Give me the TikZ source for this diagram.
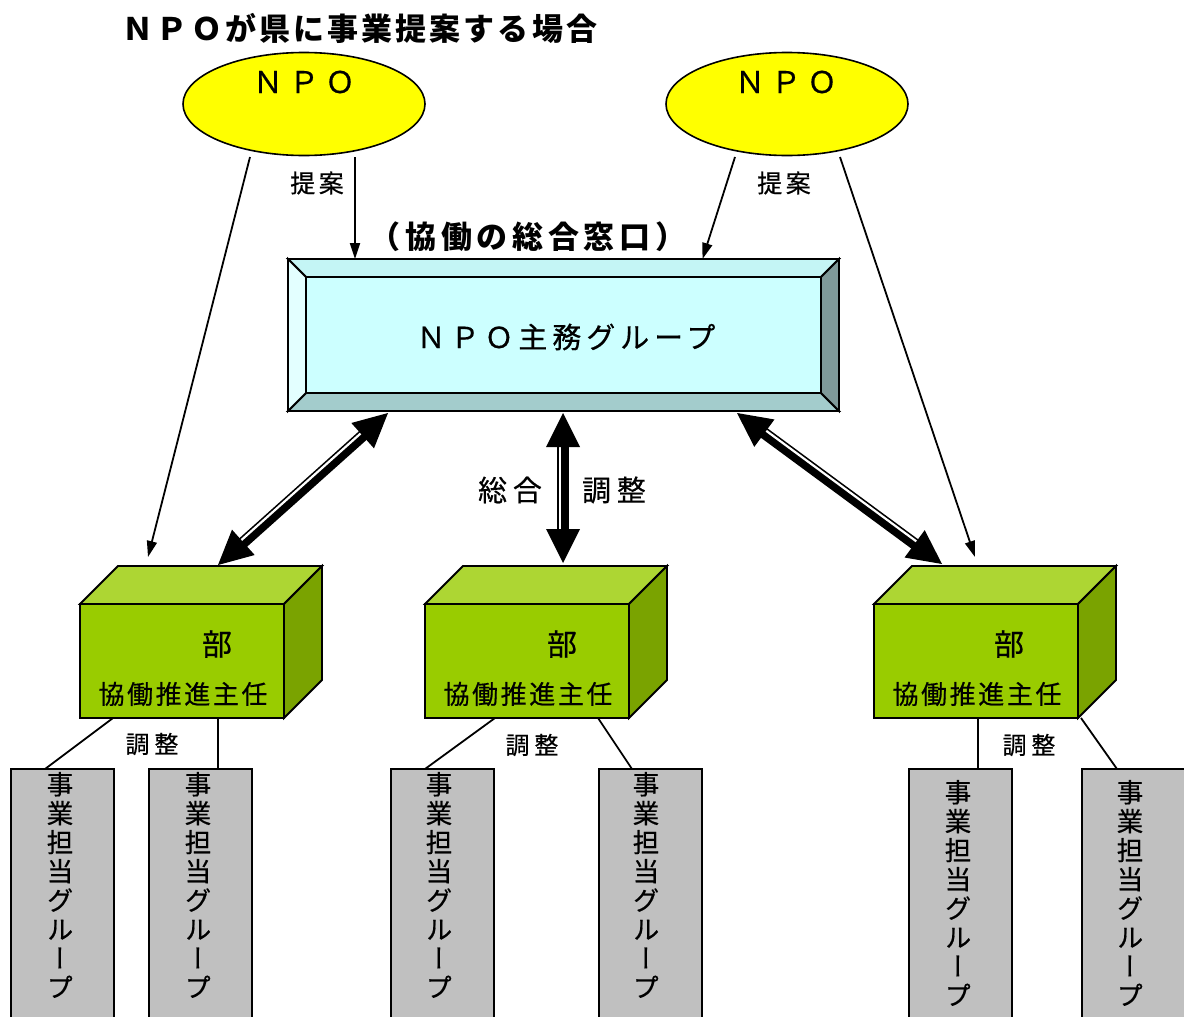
\documentclass[tikz,border=0pt]{standalone}
\usepackage{fontspec}
\setmainfont{Noto Sans CJK JP}[UprightFeatures={FakeBold=0.5}]
% vertical glyph forms (long vowel mark as a vertical bar)
\newfontfamily\jpvert[RawFeature=+vert,FakeBold=0.5]{Noto Sans CJK JP}
\usetikzlibrary{shapes.geometric,arrows.meta,calc}

\definecolor{npoyellow}{HTML}{FFFF00}
\definecolor{faceCyan}{HTML}{CCFFFF}
\definecolor{bevTop}{HTML}{C4F5F5}
\definecolor{bevLeft}{HTML}{E3FFFF}
\definecolor{bevRight}{HTML}{7F9999}
\definecolor{bevBottom}{HTML}{A3CCCC}
\definecolor{cubeFront}{HTML}{99CC00}
\definecolor{cubeTop}{HTML}{ADD633}
\definecolor{cubeSide}{HTML}{7AA300}
\definecolor{grpGray}{HTML}{C0C0C0}

% font size (pt) with extra letter spacing (percent of size)
\newcommand{\jsz}[2]{\fontsize{#1}{#1}\selectfont\addfontfeature{LetterSpace=#2}}

% heavy two-headed arrow with a thin white stripe along one side
% #1,#2 tips; #3,#4 stripe side angles seen from each end
\newcommand{\twinarrow}[4]{%
  \draw[line width=11.5pt] ($(#1)!30pt!(#2)$) -- ($(#2)!30pt!(#1)$);
  \draw[white,line width=2.2pt] ($(#1)!33pt!(#2)!3pt!#3:(#2)$) -- ($(#2)!33pt!(#1)!3pt!#4:(#1)$);
  \fill ($(#1)!34pt!(#2)!17pt!90:(#2)$) -- (#1) -- ($(#1)!34pt!(#2)!17pt!-90:(#2)$) -- cycle;
  \fill ($(#2)!34pt!(#1)!17pt!90:(#1)$) -- (#2) -- ($(#2)!34pt!(#1)!17pt!-90:(#1)$) -- cycle;
}

% department box drawn as a cube: #1 name, #2 front top-left corner
\newcommand{\deptcube}[2]{%
  \node[deptfront] (#1) at (#2) {};
  \filldraw[fill=cubeTop,line width=1.8pt] (#1.north west) -- ++(38,-38) -- ++(204,0) -- (#1.north east) -- cycle;
  \filldraw[fill=cubeSide,line width=1.8pt] (#1.north east) -- ++(38,-38) -- ++(0,114) -- (#1.south east) -- cycle;
}

\begin{document}
\begin{tikzpicture}[x=1pt,y=-1pt,
  every node/.style={inner sep=0pt,outer sep=0pt,text=black},
  npobubble/.style={ellipse,draw,line width=1.6pt,fill=npoyellow,minimum width=242pt,minimum height=103pt},
  feedline/.style={line width=1.8pt,-{Triangle[length=16pt,width=10pt]}},
  deptfront/.style={rectangle,draw,line width=1.8pt,fill=cubeFront,minimum width=204pt,minimum height=114pt,anchor=north west},
  grpbox/.style={rectangle,draw,line width=1.8pt,fill=grpGray,minimum width=103pt,minimum height=270pt,anchor=north west},
  vlabel/.style={anchor=north,align=center,font={\jpvert\fontsize{26.5}{29}\selectfont}},
  branch/.style={line width=1.8pt},
]
\useasboundingbox (0,0) rectangle (1184,1017);

% title
\node (title) at (360,28) {\bfseries\jsz{31}{10}ＮＰＯが県に事業提案する場合};

% proposing NPOs
\node[npobubble] (npo1) at (304,104) {};
\node[npobubble] (npo2) at (787,104) {};
\node (npo1t) at (304,82) {\jsz{30}{20}ＮＰＯ};
\node (npo2t) at (786,82) {\jsz{30}{20}ＮＰＯ};

% central contact point with bevelled frame
\node (window) at (528,237) {\bfseries\jsz{31}{15}（協働の総合窓口）};
\node[rectangle,draw,line width=1.8pt,fill=faceCyan,minimum width=551pt,minimum height=152pt] (main) at (563.5,335) {};
\filldraw[fill=bevTop,line width=1.8pt] (main.north west) -- (main.north east) -- ++(-18,18) -- ($(main.north west)+(18,18)$) -- cycle;
\filldraw[fill=bevBottom,line width=1.8pt] (main.south west) -- (main.south east) -- ++(-18,-18) -- ($(main.south west)+(18,-18)$) -- cycle;
\filldraw[fill=bevLeft,line width=1.8pt] (main.north west) -- (main.south west) -- ++(18,-18) -- ($(main.north west)+(18,18)$) -- cycle;
\filldraw[fill=bevRight,line width=1.8pt] (main.north east) -- (main.south east) -- ++(-18,-18) -- ($(main.north east)+(-18,18)$) -- cycle;
\node (maint) at (566,337) {\jsz{29}{17}ＮＰＯ主務グループ};

% departments
\deptcube{d1}{80,604}
\deptcube{d2}{425,604}
\deptcube{d3}{874,604}
\node (d1a) at (217,644) {\jsz{30}{0}部};
\node (d2a) at (562,644) {\jsz{30}{0}部};
\node (d3a) at (1009,644) {\jsz{30}{0}部};
\node (d1b) at (183,694) {\jsz{26}{10}協働推進主任};
\node (d2b) at (528,694) {\jsz{26}{10}協働推進主任};
\node (d3b) at (977,694) {\jsz{26}{10}協働推進主任};

% proposal arrows
\coordinate (p1a) at ($(npo1.south)+(-54,1.5)$);
\coordinate (p1b) at ($(npo1.south)+(51,1.5)$);
\coordinate (p2a) at ($(npo2.south)+(-52,1.5)$);
\coordinate (p2b) at ($(npo2.south)+(53,1.5)$);
\coordinate (d1in) at ($(d1.north west)+(68,-47)$);
\coordinate (d3in) at ($(d3.north west)+(101,-47)$);
\coordinate (m1in) at (main.north -| p1b);
\coordinate (m2in) at ($(main.north)+(139,0)$);
\draw[feedline] (p1a) -- (d1in);
\draw[feedline] (p1b) -- (m1in);
\draw[feedline] (p2a) -- (m2in);
\draw[feedline] (p2b) -- (d3in);
\node (prop1) at (317,183) {\jsz{25}{14}提案};
\node (prop2) at (784,183) {\jsz{25}{14}提案};

% coordination arrows
\coordinate (mL) at ($(main.south west)+(100,2)$);
\coordinate (mC) at ($(main.south)+(-0.5,2)$);
\coordinate (mR) at ($(main.south west)+(449,2)$);
\coordinate (d1t) at ($(d1.north west)+(138,-39)$);
\coordinate (d2t) at ($(d2.north west)+(138,-41)$);
\coordinate (d3t) at ($(d3.north west)+(68,-40)$);
\twinarrow{mL}{d1t}{-90}{90}
\twinarrow{mC}{d2t}{-90}{90}
\twinarrow{mR}{d3t}{90}{-90}
\node (sogo) at (510,490) {\jsz{29}{20}総合};
\node (chosei) at (614,490) {\jsz{29}{20}調整};

% project groups
\begin{scope}
\clip (0,0) rectangle (1184,1017);
\node[grpbox] (g1) at (11,769) {};
\node[grpbox] (g2) at (149,769) {};
\node[grpbox] (g3) at (391,769) {};
\node[grpbox] (g4) at (599,769) {};
\node[grpbox] (g5) at (909,769) {};
\node[grpbox] (g6) at (1082,769) {};
\end{scope}
\node[vlabel] (g1t) at (60,772) {事\\業\\担\\当\\グ\\ル\\ー\\プ};
\node[vlabel] (g2t) at (198,772) {事\\業\\担\\当\\グ\\ル\\ー\\プ};
\node[vlabel] (g3t) at (439,772) {事\\業\\担\\当\\グ\\ル\\ー\\プ};
\node[vlabel] (g4t) at (646,772) {事\\業\\担\\当\\グ\\ル\\ー\\プ};
\node[vlabel] (g5t) at (958,780) {事\\業\\担\\当\\グ\\ル\\ー\\プ};
\node[vlabel] (g6t) at (1130,780) {事\\業\\担\\当\\グ\\ル\\ー\\プ};

% links from departments to groups
\draw[branch] ($(d1.south west)+(33,0)$) -- ($(g1.north west)+(34,0)$);
\draw[branch] ($(d1.south west)+(138,0)$) -- ($(g2.north west)+(69,0)$);
\draw[branch] ($(d2.south west)+(70,0)$) -- ($(g3.north west)+(34,0)$);
\draw[branch] ($(d2.south west)+(173,0)$) -- ($(g4.north west)+(33,0)$);
\draw[branch] ($(d3.south west)+(104,0)$) -- ($(g5.north west)+(69,0)$);
\draw[branch] ($(d3.south east)+(3,0)$) -- ($(g6.north west)+(35,0)$);
\node (c1) at (152,744) {\jsz{24}{20}調整};
\node (c2) at (532,745) {\jsz{24}{20}調整};
\node (c3) at (1029,745) {\jsz{24}{20}調整};
\end{tikzpicture}
\end{document}
